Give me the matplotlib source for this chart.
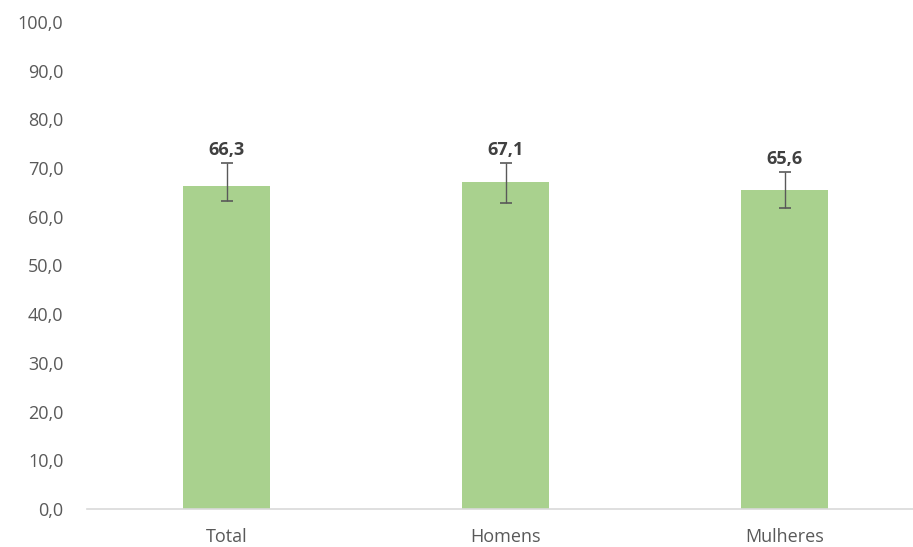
import matplotlib.pyplot as plt

# -----------------------------
# Data
# -----------------------------
categories = ["Total", "Homens", "Mulheres"]
values = [66.3, 67.1, 65.6]
err_low = [3.0, 4.2, 3.7]
err_high = [4.7, 3.9, 3.5]
yticks = [0, 10, 20, 30, 40, 50, 60, 70, 80, 90, 100]

plt.rcParams['font.family'] = ['Open Sans', 'DejaVu Sans']

fig = plt.figure(figsize=(9.13, 5.47), dpi=100)
ax = fig.add_axes([87 / 913, 38 / 547, 837 / 913, 487 / 547])

x = list(range(len(categories)))
ax.bar(x, values, width=0.31, color='#a9d18e', zorder=2)
ax.errorbar(x, values, yerr=[err_low, err_high], fmt='none',
            ecolor='#595959', elinewidth=1, capsize=4, capthick=1.2, zorder=3)

# value labels above the error bars
for xi, v, eh in zip(x, values, err_high):
    ax.annotate(f"{v:.1f}".replace(".", ","), (xi, v + eh),
                xytext=(0, 3), textcoords='offset points',
                ha='center', va='bottom', fontsize=13,
                fontweight='bold', color='#404040')

ax.set_xlim(-0.5, 2.5)
ax.set_ylim(0, 100)
ax.set_xticks(x)
ax.set_xticklabels(categories)
ax.set_yticks(yticks)
ax.set_yticklabels([f"{t:.1f}".replace(".", ",") for t in yticks])

ax.tick_params(axis='both', length=0, labelsize=13, colors='#595959')
ax.tick_params(axis='y', pad=17)
ax.tick_params(axis='x', pad=14)

for s in ['top', 'right', 'left']:
    ax.spines[s].set_visible(False)
ax.spines['bottom'].set_color('#d9d9d9')
ax.spines['bottom'].set_linewidth(1.2)

fig.savefig("out.png", dpi=100)
